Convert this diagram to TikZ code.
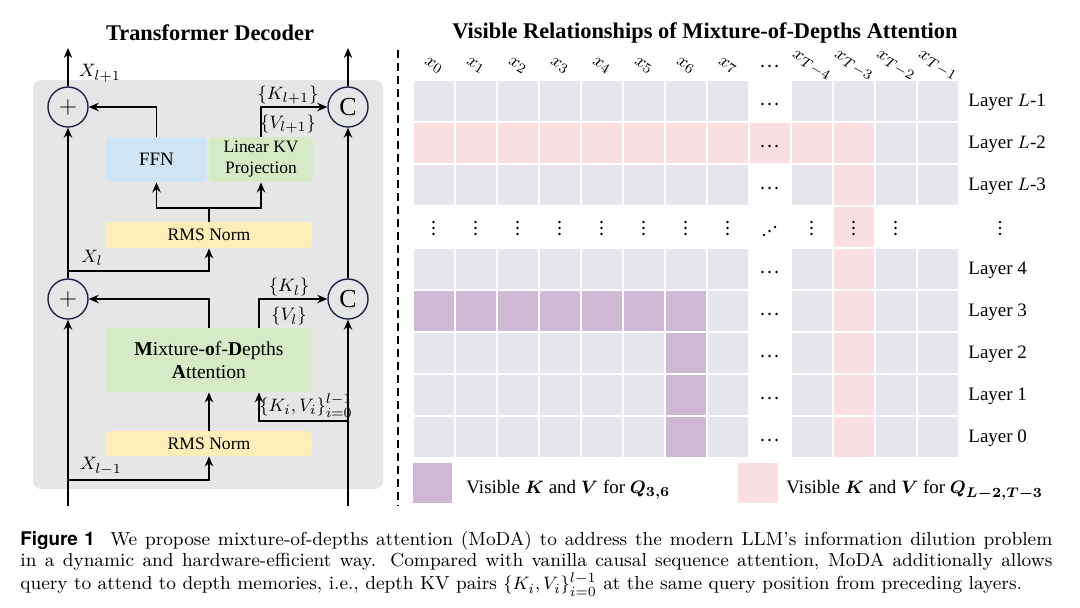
\documentclass[tikz,border=0pt]{standalone}
\usepackage{fontspec}
\usepackage{amsmath,bm}
\usetikzlibrary{arrows.meta,positioning}
\newfontfamily\tnr{Liberation Serif}
\newfontfamily\hel{TeX Gyre Heros}
\definecolor{panelgray}{HTML}{E6E6E6}
\definecolor{cellgray}{HTML}{E4E6EC}
\definecolor{qpink}{HTML}{FADFE2}
\definecolor{qpurple}{HTML}{CDB9D3}
\definecolor{ffnblue}{HTML}{CFE4F5}
\definecolor{kvgreen}{HTML}{D5EAC5}
\definecolor{normyellow}{HTML}{FDEDB9}
\definecolor{navy}{HTML}{1C2541}

\tikzset{
  hd/.style={font=\tnr\bfseries\fontsize{11.2}{13}\selectfont},
  blk/.style={rounded corners=2pt, inner sep=0pt, align=center},
  opnode/.style={circle, draw=navy, line width=0.7pt, fill=panelgray,
    minimum size=20pt, inner sep=0pt},
  arr/.style={-{Stealth[length=5pt,width=4.2pt]}, line width=0.8pt},
  ln/.style={line width=0.8pt},
  lbl/.style={font=\fontsize{9.5}{11}\selectfont, inner sep=0pt},
  layerlbl/.style={anchor=west, inner sep=0pt, font=\tnr\fontsize{9.5}{11}\selectfont},
  collbl/.style={rotate=-30, inner sep=0pt, font=\fontsize{9.3}{11}\selectfont},
  vdts/.pic={\fill (0,-6) circle (0.65pt) (0,0) circle (0.65pt) (0,6) circle (0.65pt);},
  hdts/.pic={\fill (-7,0) circle (0.65pt) (0,0) circle (0.65pt) (7,0) circle (0.65pt);},
  ddts/.pic={\fill (-5.5,4) circle (0.65pt) (0,0) circle (0.65pt) (5.5,-4) circle (0.65pt);}
}

\begin{document}
\begin{tikzpicture}[x=0.5pt,y=-0.5pt]
  \useasboundingbox (0,0) rectangle (1080,607);

  % Left panel: decoder block
  \node[hd] (ttlL) at (210,33) {Transformer Decoder};
  \fill[panelgray, rounded corners=4pt] (33,80) rectangle (383,489);

  \node[opnode, font=\fontsize{13}{13}\selectfont] (addtop) at (68,107) {$+$};
  \node[opnode, font=\fontsize{13}{13}\selectfont] (addbot) at (68,299) {$+$};
  \node[opnode, font=\tnr\fontsize{13}{13}\selectfont] (cattop) at (348,107) {C};
  \node[opnode, font=\tnr\fontsize{13}{13}\selectfont] (catbot) at (348,299) {C};

  \node[blk, fill=ffnblue, minimum width=50.5pt, minimum height=22.5pt,
    font=\tnr\fontsize{9.5}{11}\selectfont] (ffn) at (156.5,159.5) {FFN};
  \node[blk, fill=kvgreen, minimum width=52pt, minimum height=22.5pt,
    font=\tnr\fontsize{8.7}{10.5}\selectfont] (kvproj) at (261,159.5) {Linear KV\\Projection};
  \node[blk, fill=normyellow, minimum width=103pt, minimum height=13pt,
    font=\tnr\fontsize{8.8}{10}\selectfont] (norm2) at (209,235) {RMS Norm};
  \node[blk, fill=kvgreen, minimum width=103pt, minimum height=32pt,
    font=\tnr\fontsize{9.8}{11.8}\selectfont] (moda) at (209,360)
    {\textbf{M}ixture-\textbf{o}f-\textbf{D}epths\\\textbf{A}ttention};
  \node[blk, fill=normyellow, minimum width=103pt, minimum height=12.5pt,
    font=\tnr\fontsize{8.8}{10}\selectfont] (norm1) at (209,443.5) {RMS Norm};

  % residual streams
  \coordinate (inL) at (68,506);
  \coordinate (inR) at (348,506);
  \coordinate (outL) at (68,48);
  \coordinate (outR) at (348,48);
  \coordinate (tapA) at (68,480);
  \coordinate (tapB) at (348,421);
  \coordinate (tapC) at (68,271);
  \coordinate (split) at (209,208);

  \draw[arr] (inL) -- (addbot);
  \draw[arr] (addbot) -- (addtop);
  \draw[arr] (addtop) -- (outL);
  \draw[arr] (inR) -- (catbot);
  \draw[arr] (catbot) -- (cattop);
  \draw[arr] (cattop) -- (outR);

  % sublayer wiring
  \draw[arr] (tapA) -| (norm1.south);
  \draw[arr] (norm1) -- (moda);
  \draw[arr] (moda.north) |- (addbot);
  \draw[arr] ([xshift=25pt]moda.north) |- (catbot);
  \draw[arr] (tapB) -| ([xshift=25pt]moda.south);
  \draw[arr] (tapC) -| (norm2.south);
  \draw[ln] (norm2.north) -- (split);
  \draw[arr] (split) -| (ffn.south);
  \draw[arr] (split) -| (kvproj.south);
  \draw[arr] (ffn.north) |- (addtop);
  \draw[arr] (kvproj.north) |- (cattop);

  \node[lbl] (xnext) at (100,73) {$X_{l+1}$};
  \node[lbl] (knext) at (288,95) {$\{K_{l+1}\}$};
  \node[lbl] (vnext) at (288,124) {$\{V_{l+1}\}$};
  \node[lbl] (xcur) at (92,258) {$X_l$};
  \node[lbl] (kcur) at (289,287) {$\{K_l\}$};
  \node[lbl] (vcur) at (289,316) {$\{V_l\}$};
  \node[lbl] (kvpast) at (306,406) {$\{K_i,V_i\}_{i=0}^{l-1}$};
  \node[lbl] (xprev) at (101,466) {$X_{l-1}$};

  % separator
  \draw[line width=0.9pt, dash pattern=on 4pt off 2.5pt] (398,50) -- (398,506);

  % Right panel: visibility grid
  \node[hd] (ttlR) at (705,33) {Visible Relationships of Mixture-of-Depths Attention};

  \foreach \r in {0,...,8}{
    \foreach \c in {0,...,12}{
      \def\cellcol{cellgray}
      \def\skipcell{0}
      \ifnum\c=8 \ifnum\r=1 \else \def\skipcell{1}\fi\fi
      \ifnum\r=3 \ifnum\c=10 \else \def\skipcell{1}\fi\fi
      \ifnum\r=1 \ifnum\c<11 \def\cellcol{qpink}\fi\fi
      \ifnum\c=10 \ifnum\r>0 \def\cellcol{qpink}\fi\fi
      \ifnum\r=5 \ifnum\c<7 \def\cellcol{qpurple}\fi\fi
      \ifnum\c=6 \ifnum\r>5 \def\cellcol{qpurple}\fi\fi
      \ifnum\skipcell=0
        \fill[\cellcol] ({413.5+42*\c},{81+42*\r}) rectangle ++(40,40);
      \fi
    }
  }

  % column labels
  \foreach \c/\lab in {0/0,1/1,2/2,3/3,4/4,5/5,6/6,7/7,9/T-4,10/T-3,11/T-2,12/T-1}
    \node[collbl] at ({433.5+42*\c},66) {$x_{\lab}$};
  \pic at (769.5,66) {hdts};

  % row labels
  \foreach \r/\lab in {0/{$L$-1},1/{$L$-2},2/{$L$-3},4/4,5/3,6/2,7/1,8/0}{
    \node[layerlbl] at (968,{102+42*\r}) {Layer \lab};
    \pic at (769.5,{104+42*\r}) {hdts};
  }

  % elided rows
  \foreach \c in {0,...,7,9,10,11}
    \pic at ({433.5+42*\c},228) {vdts};
  \pic at (769.5,231) {ddts};
  \pic at (1000,228) {vdts};

  % legend
  \fill[qpurple] (413,463) rectangle ++(39,40);
  \node[layerlbl] (legA) at (466,490) {Visible $\bm{K}$ and $\bm{V}$ for $\bm{Q}_{\bm{3,6}}$};
  \fill[qpink] (738,463) rectangle ++(40,40);
  \node[layerlbl] (legB) at (786,490) {Visible $\bm{K}$ and $\bm{V}$ for $\bm{Q}_{\bm{L-2,T-3}}$};

  % caption
  \node[anchor=north west, text width=516pt, align=justify, inner sep=0pt,
    font=\fontsize{9.4}{10.5}\selectfont] (cap) at (20,531)
    {\parfillskip=0pt{\hel\bfseries Figure 1}\ \ We propose mixture-of-depths attention (MoDA) to address the modern LLM’s information dilution problem\linebreak
     in a dynamic and hardware-efficient way. Compared with vanilla causal sequence attention, MoDA additionally allows\linebreak
     query to attend to depth memories, i.e., depth KV pairs $\{K_i,V_i\}_{i=0}^{l-1}$ at the same query position from preceding layers.};
\end{tikzpicture}
\end{document}
